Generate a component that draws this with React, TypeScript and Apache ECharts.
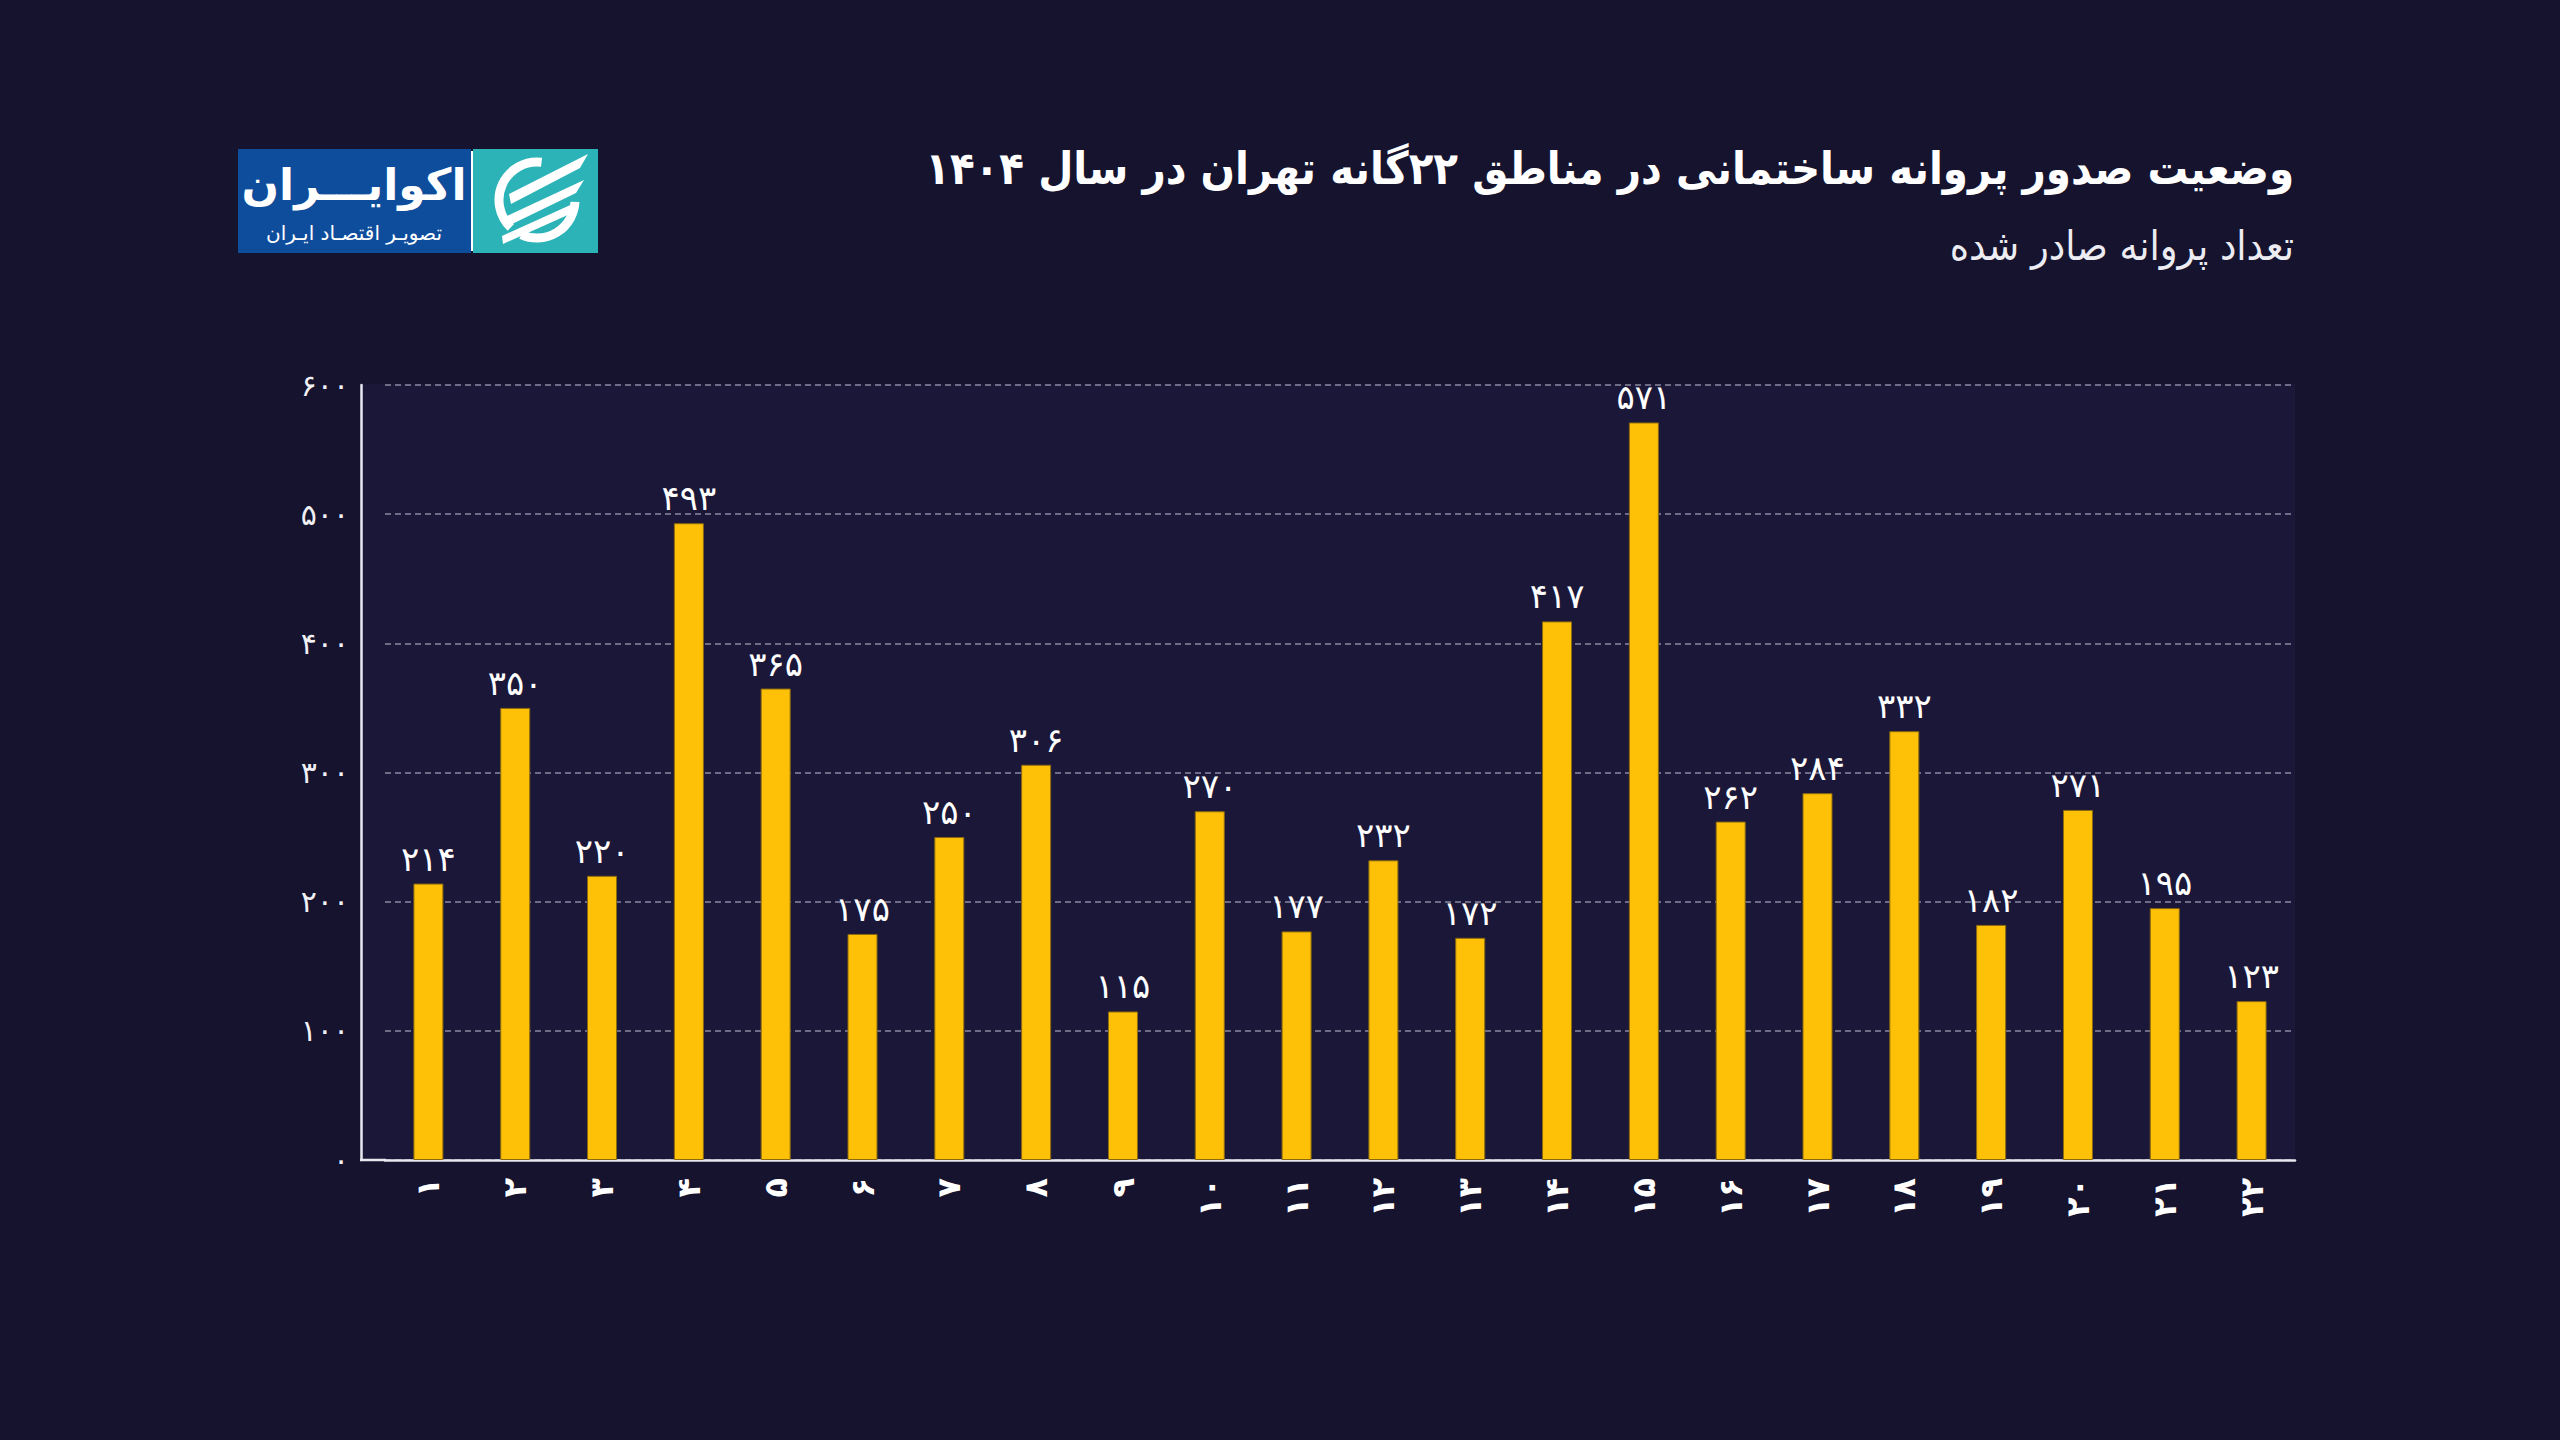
import React, { useEffect, useRef } from "react";
import * as echarts from "echarts";

const TITLE = "وضعیت صدور پروانه ساختمانی در مناطق ۲۲گانه تهران در سال ۱۴۰۴";
const SUBTITLE = "تعداد پروانه صادر شده";
const LOGO_MAIN = "اکوایـــران";
const LOGO_SUB = "تصویـر اقتصـاد ایـران";

const districts = [
  "۱", "۲", "۳", "۴", "۵", "۶", "۷", "۸", "۹", "۱۰", "۱۱",
  "۱۲", "۱۳", "۱۴", "۱۵", "۱۶", "۱۷", "۱۸", "۱۹", "۲۰", "۲۱", "۲۲",
];
const permits = [
  214, 350, 220, 493, 365, 175, 250, 306, 115, 270, 177,
  232, 172, 417, 571, 262, 284, 332, 182, 271, 195, 123,
];
const yTicks = [0, 100, 200, 300, 400, 500, 600];

const FONT = "'DejaVu Sans', 'Noto Sans', sans-serif";
const FONT_COND = "'DejaVu Sans Condensed', 'DejaVu Sans', sans-serif";
const fa = (v: number | string) =>
  String(v).replace(/\d/g, (d) => "۰۱۲۳۴۵۶۷۸۹"[+d]);

export default function App() {
  const ref = useRef<HTMLDivElement>(null);
  useEffect(() => {
    document.body.style.margin = "0";
    const chart = echarts.init(ref.current!, undefined, { renderer: "svg" });
    const white = "#ffffff";
    chart.setOption({
      animation: false,
      backgroundColor: "#15132e",
      title: [
        {
          text: TITLE,
          right: 261,
          top: 141,
          textStyle: { color: white, fontSize: 45, fontWeight: "bold", fontFamily: FONT_COND },
        },
        {
          text: SUBTITLE,
          right: 261,
          top: 220,
          textStyle: { color: "#ececf2", fontSize: 41, fontWeight: "normal", fontFamily: FONT_COND },
        },
      ],
      graphic: [
        {
          type: "rect",
          z: -10,
          silent: true,
          shape: { x: 361, y: 384, width: 1934, height: 776 },
          style: { fill: "#1b1738" },
        },
        {
          type: "line",
          z: 10,
          silent: true,
          shape: { x1: 360, y1: 1160, x2: 386, y2: 1160 },
          style: { stroke: "#e8e8f0", lineWidth: 2.5 },
        },
        // logo
        {
          type: "rect",
          silent: true,
          shape: { x: 238, y: 149, width: 233, height: 104 },
          style: { fill: "#0e4c9c" },
        },
        {
          type: "rect",
          silent: true,
          shape: { x: 473, y: 149, width: 125, height: 104 },
          style: { fill: "#2bb3b7" },
        },
        {
          type: "line",
          silent: true,
          shape: { x1: 472, y1: 151, x2: 472, y2: 251 },
          style: { stroke: "#ffffff", lineWidth: 2 },
        },
        {
          type: "text",
          silent: true,
          x: 354,
          y: 184,
          style: {
            text: LOGO_MAIN,
            fill: white,
            fontSize: 44,
            fontWeight: "bold",
            fontFamily: FONT,
            align: "center",
            verticalAlign: "middle",
          },
        },
        {
          type: "text",
          silent: true,
          x: 354,
          y: 233,
          style: {
            text: LOGO_SUB,
            fill: white,
            fontSize: 20,
            fontFamily: FONT,
            align: "center",
            verticalAlign: "middle",
          },
        },
        {
          type: "arc",
          silent: true,
          shape: { cx: 537, cy: 200, r: 38, startAngle: -1.45, endAngle: -3.95, clockwise: false },
          style: { stroke: white, lineWidth: 9, fill: "none" },
        },
        {
          type: "arc",
          silent: true,
          shape: { cx: 537, cy: 200, r: 38, startAngle: 0.05, endAngle: 2.0, clockwise: true },
          style: { stroke: white, lineWidth: 9, fill: "none" },
        },
        {
          type: "polygon",
          silent: true,
          shape: { points: [[509, 194], [588, 154], [580, 168], [511, 204]] },
          style: { fill: white },
        },
        {
          type: "polygon",
          silent: true,
          shape: { points: [[507, 216], [584, 180], [576, 193], [508, 226]] },
          style: { fill: white },
        },
        {
          type: "polygon",
          silent: true,
          shape: { points: [[502, 236], [577, 202], [570, 214], [503, 244]] },
          style: { fill: white },
        },
      ],
      grid: { left: 385, right: 265, top: 385, bottom: 280, containLabel: false },
      xAxis: {
        type: "category",
        data: districts,
        axisLine: { show: true, lineStyle: { color: "#e8e8f0", width: 2.5 } },
        axisTick: { show: false },
        axisLabel: {
          rotate: 90,
          margin: 18,
          color: white,
          fontSize: 32,
          fontWeight: "bold",
          fontFamily: FONT,
        },
      },
      yAxis: {
        type: "value",
        min: 0,
        max: 600,
        interval: 100,
        offset: 24,
        axisLine: { show: true, lineStyle: { color: "#e8e8f0", width: 2.5 } },
        axisTick: { show: false },
        axisLabel: {
          margin: 12,
          color: "#f0f0f5",
          fontSize: 30,
          fontFamily: FONT,
          formatter: (v: number) => (yTicks.includes(v) ? fa(v) : ""),
        },
        splitLine: {
          show: true,
          lineStyle: { color: "#8a889e", width: 1.5, type: [6, 4] },
        },
      },
      series: [
        {
          type: "bar",
          data: permits,
          barWidth: 30,
          itemStyle: { color: "#ffc107", borderColor: "#8a6a10", borderWidth: 1 },
          label: {
            show: true,
            position: "top",
            distance: 8,
            color: white,
            fontSize: 34,
            fontFamily: FONT,
            formatter: (p: any) => fa(p.value),
          },
        },
      ],
    });
    return () => chart.dispose();
  }, []);
  return (
    <div
      ref={ref}
      style={{ position: "absolute", left: 0, top: 0, width: 2560, height: 1440 }}
    />
  );
}
